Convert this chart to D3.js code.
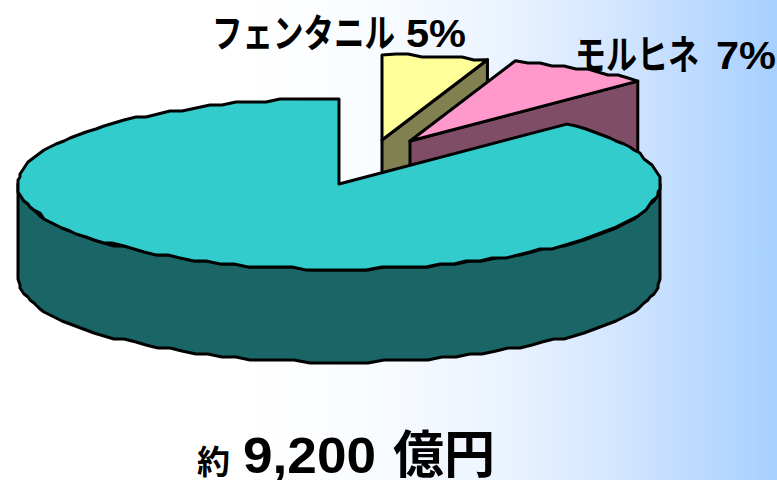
<!DOCTYPE html>
<html lang="ja">
<head>
<meta charset="utf-8">
<style>
  html, body { margin: 0; padding: 0; background: #fff; }
  svg { display: block; }
  text { font-family: "Liberation Sans", "Noto Sans CJK JP", sans-serif; font-weight: 700; fill: #000; }
</style>
<script src="https://cdn.jsdelivr.net/npm/d3@7/dist/d3.min.js"></script>
</head>
<body>
<svg id="chart" width="777" height="480"></svg>
<script>
// Market share by drug, percent
const drugNames = ["その他", "フェンタニル", "モルヒネ"];
const shares = [88, 5, 7];
const topColors = ["#33CCCC", "#FFFF99", "#FF99CC"];
const wallColors = ["#1A6666", "#808050", "#804D66"];
const totalLabel = ["約", "9,200", "億円"];

const W = 777, H = 480;
const svg = d3.select("#chart");

// Background wash, easing from white into pale blue
const washStops = [
  [240, "#FFFFFF"], [373, "#F9FCFF"], [507, "#EAF3FF"],
  [607, "#D5E7FF"], [707, "#BAD9FF"], [777, "#A6D0FF"]
];
const grad = svg.append("defs").append("linearGradient").attr("id", "wash");
washStops.forEach(([x, c]) => {
  grad.append("stop").attr("offset", x / W).attr("stop-color", c);
});
svg.append("rect").attr("width", W).attr("height", H).attr("fill", "url(#wash)");

// Slices run clockwise from 12 o'clock: the two named drugs first, the rest last
const order = [1, 2, 0];
const pie = d3.pie().sort(null).value(i => shares[i]);
const arcs = pie(order);

// Ellipse geometry of the tilted disc and where each slice's apex sits
const radiusX = 321, radiusY = 85, depth = 93;
const apex = { 0: [339, 184], 1: [382, 140], 2: [410, 141] };
const sx = d3.scaleLinear().domain([-1, 1]).range([-radiusX, radiusX]);
const sy = d3.scaleLinear().domain([-1, 1]).range([-radiusY, radiusY]);

// Tilt foreshortening: angles in the upper right quadrant spread slightly
const tilt = a => a + 0.035 * Math.sin(2 * a);
const rim = (i, a, dy = 0) => {
  const t = tilt(a);
  return [apex[i][0] + sx(Math.sin(t)),
          apex[i][1] + sy(-Math.cos(t)) + dy];
};
// The curved edges are short polylines snapped to a pixel lattice
const snap = p => [Math.round(p[0] / 2) * 2, Math.round(p[1] / 3) * 3];
const rimPoints = (i, a0, a1, dy = 0) => {
  const n = Math.max(2, Math.ceil(Math.abs(a1 - a0) / (2.5 * Math.PI / 180)));
  return d3.range(n + 1).map(k => {
    const p = rim(i, a0 + (a1 - a0) * k / n, dy);
    return (k === 0 || k === n) ? p : snap(p);
  });
};
const line = d3.line().curve(d3.curveLinear);
const shape = pts => line(pts) + "Z";

const stroke = { stroke: "#000", "stroke-width": 3, "stroke-linejoin": "round" };
const styled = (d, fill) => {
  const el = svg.append("path").attr("d", d).attr("fill", fill);
  Object.entries(stroke).forEach(([k, v]) => el.attr(k, v));
};

// Pull-out slices: radial wall under the trailing edge, then the top face
arcs.filter(a => a.data !== 0).forEach(a => {
  const i = a.data;
  const end = rim(i, a.endAngle);
  const o = apex[i];
  styled(shape([o, end, [end[0], end[1] + depth], [o[0], o[1] + depth]]), wallColors[i]);
  styled(shape([o, ...rimPoints(i, a.startAngle, a.endAngle)]), topColors[i]);
});

// Main slice: cylinder wall across the front, then the top face
const main = arcs.find(a => a.data === 0);
const right = Math.PI / 2, left = 3 * Math.PI / 2;
styled(shape([...rimPoints(0, right, left), ...rimPoints(0, left, right, depth)]), wallColors[0]);
styled(shape([apex[0], ...rimPoints(0, main.startAngle, main.endAngle)]), topColors[0]);

// Slice labels: katakana set tall and narrow, percentages in a wider face
const labelRows = [
  { name: drugNames[1], share: shares[1], x: 212, y: 47, size: 30.5, pct: 406 },
  { name: drugNames[2], share: shares[2], x: 575, y: 69, size: 31, pct: 716 }
];
labelRows.forEach(r => {
  svg.append("text").attr("transform", `translate(${r.x},${r.y}) scale(1,1.28)`)
    .attr("font-size", r.size).text(r.name);
  svg.append("text").attr("x", r.pct).attr("y", r.y).attr("font-size", 39)
    .attr("textLength", 60).attr("lengthAdjust", "spacingAndGlyphs").text(r.share + "%");
});

// Market total
svg.append("text").attr("x", 197).attr("y", 474).attr("font-size", 33).text(totalLabel[0]);
svg.append("text").attr("x", 243).attr("y", 473).attr("font-size", 50)
  .attr("textLength", 133).attr("lengthAdjust", "spacingAndGlyphs").text(totalLabel[1]);
svg.append("text").attr("x", 393).attr("y", 473).attr("font-size", 51).text(totalLabel[2]);
</script>
</body>
</html>
